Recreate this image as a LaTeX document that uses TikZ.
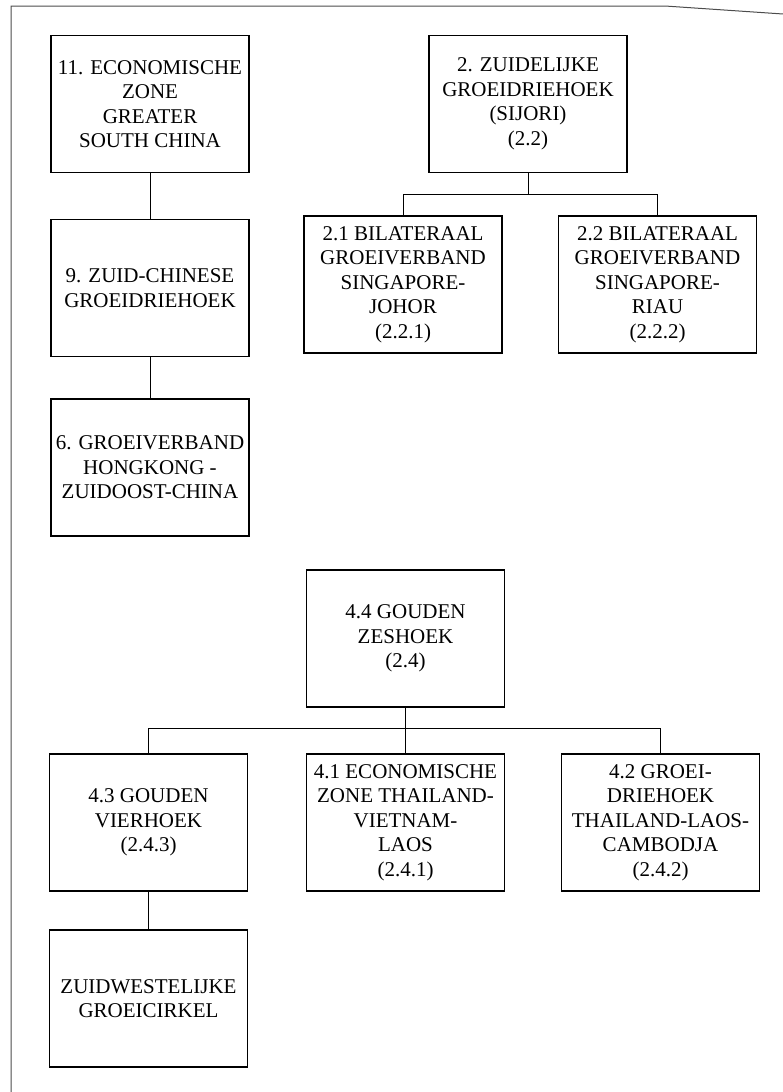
\documentclass[tikz,border=0pt]{standalone}
\usepackage{fontspec}
\setmainfont{Liberation Serif}
\begin{document}
\begin{tikzpicture}[x=1pt, y=-1pt,
    box/.style={draw, line width=1.1pt, minimum width=198pt, minimum height=137pt,
        inner sep=0pt, align=center, font=\fontsize{21}{24.5}\selectfont},
    link/.style={line width=0.8pt}]
    % 定义边界
    \useasboundingbox (0,0) rectangle (783,1092);

    % 扫描边框
    \draw[gray!60!black, line width=1pt] (11,1092) -- (11,6) -- (665,6) -- (783,14);

    % 左列：South China
    \node[box] (n11) at (150,104) {11. ECONOMISCHE\\ZONE\\GREATER\\SOUTH CHINA};
    \node[box] (n9) at (150,288) {9. ZUID-CHINESE\\GROEIDRIEHOEK};
    \node[box] (n6) at (150,467.5) {6. GROEIVERBAND\\HONGKONG -\\ZUIDOOST-CHINA};
    \draw[link] (n11.south) -- (n9.north);
    \draw[link] (n9.south) -- (n6.north);

    % 右上：Sijori
    \node[box] (n2) at (528,104) {2. ZUIDELIJKE\\GROEIDRIEHOEK\\(SIJORI)\\(2.2)};
    \node[box] (n21) at (403,284.5) {2.1 BILATERAAL\\GROEIVERBAND\\SINGAPORE-\\JOHOR\\(2.2.1)};
    \node[box] (n22) at (657.5,284.5) {2.2 BILATERAAL\\GROEIVERBAND\\SINGAPORE-\\RIAU\\(2.2.2)};
    \coordinate (j2) at (528,194);
    \draw[link] (n2.south) -- (j2);
    \draw[link] (j2) -| (n21.north);
    \draw[link] (j2) -| (n22.north);

    % 下方：Gouden Zeshoek
    \node[box] (n44) at (405.5,638.5) {4.4 GOUDEN\\ZESHOEK\\(2.4)};
    \node[box] (n43) at (148.5,822.5) {4.3 GOUDEN\\VIERHOEK\\(2.4.3)};
    \node[box] (n41) at (405.5,822.5) {4.1 ECONOMISCHE\\ZONE THAILAND-\\VIETNAM-\\LAOS\\(2.4.1)};
    \node[box] (n42) at (660.5,822.5) {4.2 GROEI-\\DRIEHOEK\\THAILAND-LAOS-\\CAMBODJA\\(2.4.2)};
    \node[box] (nzw) at (148.5,998.5) {ZUIDWESTELIJKE\\GROEICIRKEL};
    \coordinate (j4) at (405.5,728);
    \draw[link] (n44.south) -- (j4);
    \draw[link] (j4) -| (n43.north);
    \draw[link] (j4) -- (n41.north);
    \draw[link] (j4) -| (n42.north);
    \draw[link] (n43.south) -- (nzw.north);

\end{tikzpicture}
\end{document}
